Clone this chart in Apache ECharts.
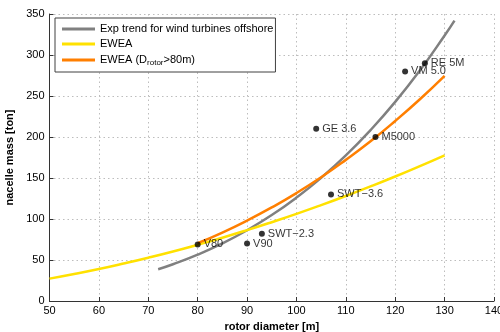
<!DOCTYPE html>
<html>
<head>
<meta charset="utf-8">
<script src="https://cdn.jsdelivr.net/npm/echarts@6/dist/echarts.min.js"></script>
<style>
  html, body { margin: 0; padding: 0; background: #fff; }
  #chart { width: 500px; height: 332px; }
</style>
</head>
<body>
<div id="chart"></div>
<script>
// values
const trendX = [72, 75, 80, 85, 90, 95, 100, 105, 110, 115, 120, 125, 130, 132];
const trendY = [38.7, 44.8, 56.5, 70.3, 86.3, 104.8, 126.1, 150.2, 177.5, 208.4, 242.8, 281.2, 323.8, 342];

const eweaX = [50, 55, 60, 65, 70, 75, 80, 85, 90, 95, 100, 105, 110, 115, 120, 125, 130];
const eweaY = [27.3, 32.9, 39.0, 45.7, 52.8, 60.4, 68.6, 77.2, 86.4, 96.1, 106.2, 116.9, 128.1, 139.7, 151.8, 164.5, 177.7];

const ewea80X = [80, 85, 90, 95, 100, 105, 110, 115, 120, 125, 130];
const ewea80Y = [70.5, 83.5, 98.1, 114.1, 131.6, 150.9, 172.1, 194.7, 219.5, 246, 274.5];

const turbineNames = ['V80', 'V90', 'SWT\u22122.3', 'SWT\u22123.6', 'GE 3.6', 'M5000', 'VM 5.0', 'RE 5M'];
const turbineD = [80, 90, 93, 107, 104, 116, 122, 126];
const turbineMass = [69, 70, 82, 130, 210, 200, 280, 290];

const xTicks = [50, 140, 10];
const yTicks = [0, 350, 50];

const zip = (xs, ys) => xs.map((x, i) => [x, ys[i]]);
const font = 'Liberation Sans, Arial, Helvetica, sans-serif';

const chart = echarts.init(document.getElementById('chart'));

const lineSeries = (name, xs, ys, color) => ({
  name: name,
  type: 'line',
  data: zip(xs, ys),
  smooth: true,
  symbol: 'none',
  lineStyle: { color: color, width: 2.5 },
  itemStyle: { color: color },
  animation: false
});

chart.setOption({
  animation: false,
  textStyle: { fontFamily: font },
  grid: { left: 49.5, right: 6, top: 14, bottom: 31, outerBoundsMode: 'none' },
  legend: {
    orient: 'vertical',
    left: 55,
    top: 18,
    padding: [4, 2, 5, 7],
    itemGap: 1,
    itemWidth: 33,
    itemHeight: 3,
    icon: 'rect',
    backgroundColor: '#fff',
    borderColor: '#404040',
    borderWidth: 1,
    borderRadius: 0,
    textStyle: {
      fontFamily: font,
      fontSize: 11,
      color: '#000',
      lineHeight: 14,
      rich: {
        sub: { fontSize: 8, fontFamily: font, color: '#000', verticalAlign: 'bottom', padding: [7, 0, 0, 0], lineHeight: 14 }
      }
    },
    formatter: name => name === 'EWEA (Drotor>80m)' ? 'EWEA (D{sub|rotor}>80m)' : name,
    data: ['Exp trend for wind turbines offshore', 'EWEA', 'EWEA (Drotor>80m)']
  },
  xAxis: {
    type: 'value',
    min: xTicks[0],
    max: xTicks[1],
    interval: xTicks[2],
    name: 'rotor diameter [m]',
    nameLocation: 'middle',
    nameGap: 20,
    nameTextStyle: { fontFamily: font, fontSize: 11, fontWeight: 'bold', color: '#000' },
    axisLine: { lineStyle: { color: '#333', width: 1 } },
    axisTick: { inside: true, length: 4, lineStyle: { color: '#333' } },
    axisLabel: { fontFamily: font, fontSize: 11, color: '#000', margin: 4 },
    splitLine: { show: true, lineStyle: { color: '#bdbdbd', type: [1.5, 3], width: 1 } }
  },
  yAxis: {
    type: 'value',
    min: yTicks[0],
    max: yTicks[1],
    interval: yTicks[2],
    name: 'nacelle mass [ton]',
    nameLocation: 'middle',
    nameGap: 29,
    nameTextStyle: { fontFamily: font, fontSize: 11, fontWeight: 'bold', color: '#000' },
    axisLine: { show: true, lineStyle: { color: '#333', width: 1 } },
    axisTick: { show: true, inside: true, length: 4, lineStyle: { color: '#333' } },
    axisLabel: { fontFamily: font, fontSize: 11, color: '#000', margin: 5 },
    splitLine: { show: true, lineStyle: { color: '#bdbdbd', type: [1.5, 3], width: 1 } }
  },
  series: [
    lineSeries('Exp trend for wind turbines offshore', trendX, trendY, '#808080'),
    lineSeries('EWEA', eweaX, eweaY, '#ffe100'),
    lineSeries('EWEA (Drotor>80m)', ewea80X, ewea80Y, '#ff7f00'),
    {
      name: 'turbines',
      type: 'scatter',
      symbol: 'circle',
      symbolSize: 6,
      itemStyle: { color: '#000' },
      z: 5,
      data: turbineNames.map((n, i) => ({ name: n, value: [turbineD[i], turbineMass[i]] })),
      label: {
        show: true,
        position: 'right',
        distance: 3,
        formatter: '{b}',
        fontFamily: font,
        fontSize: 11,
        color: '#000'
      }
    }
  ]
});
</script>
</body>
</html>
